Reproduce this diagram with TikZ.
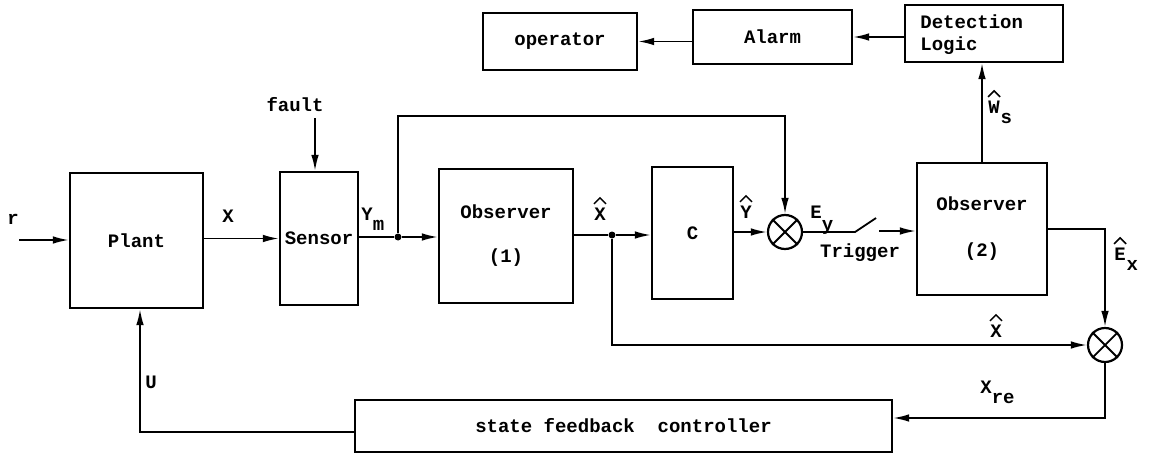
\documentclass[tikz,border=0pt]{standalone}
\usepackage{fontspec}
\setmainfont{Liberation Mono}
\usetikzlibrary{arrows.meta}
\newcommand\lowr[1]{\raisebox{-5pt}{#1}}
\newcommand\hatover[1]{\draw[hatline] ([xshift=-3pt,yshift=1.6pt]#1.north) -- ([yshift=4.6pt]#1.north) -- ([xshift=3pt,yshift=1.6pt]#1.north);}
\begin{document}
\begin{tikzpicture}[x=0.5pt,y=-0.5pt,
  box/.style={draw,line width=1.1pt,inner sep=0pt},
  sj/.style={draw,circle,line width=1.1pt,minimum size=17pt,inner sep=0pt},
  wire/.style={line width=0.9pt},
  hatline/.style={line width=0.75pt},
  arr/.style={wire,-{Latex[length=8pt,width=3.8pt]}},
  lbl/.style={anchor=base,inner sep=0pt},
  dot/.style={circle,fill,inner sep=0pt,minimum size=3.5pt},
  font=\fontsize{9.5}{11}\selectfont\bfseries]
\useasboundingbox[fill=white] (0,0) rectangle (1149,460);

% blocks
\node[box,minimum width=66.5pt,minimum height=67.5pt] (plant) at (136.5,240.5) {Plant};
\node[box,minimum width=39pt,minimum height=66.5pt] (sensor) at (319,238.5) {Sensor};
\node[box,minimum width=67pt,minimum height=67pt,align=center] (obs1) at (506,236) {Observer\\[11pt](1)};
\node[box,minimum width=40.5pt,minimum height=66pt] (cbox) at (692.5,233) {C};
\node[sj] (s1) at (785,232) {};
\node[box,minimum width=65pt,minimum height=66pt,align=center] (obs2) at (982,229) {Observer\\[12pt](2)};
\node[box,minimum width=79pt,minimum height=28.5pt] (det) at (984,33.5) {};
\node[inner sep=0pt,anchor=west,align=left] (dett) at (920,35) {Detection\\Logic};
\node[box,minimum width=79.5pt,minimum height=27pt] (alarm) at (772.5,37) {Alarm};
\node[box,minimum width=77pt,minimum height=28.5pt] (oper) at (560,41.5) {operator};
\node[box,minimum width=268.5pt,minimum height=26pt] (ctrl) at (623.5,426) {state feedback\ \ controller};
\node[sj] (s2) at (1105,345) {};

\draw[wire] (s1.north east)--(s1.south west) (s1.north west)--(s1.south east);
\draw[wire] (s2.north east)--(s2.south west) (s2.north west)--(s2.south east);

% helper points
\coordinate (rin) at (19,240);
\coordinate (fin) at (315,118);
\node[dot] (d1) at (398,237) {};
\node[dot] (d2) at (612,235) {};
\coordinate (fbtop1) at (398,116);
\coordinate (fbtop2) at (785,116);
\coordinate (sw1) at (855,232);
\coordinate (sw2) at (876,218);
\coordinate (sw3) at (879,231);
\coordinate (exc) at (1105,229);
\coordinate (xhc) at (612,345);
\coordinate (xrec) at (1105,418);
\coordinate (uc) at (140,432);

% connectors
\draw[arr] (rin) -- (plant.west |- rin);
\draw[arr] (plant.east |- sensor.west) -- (sensor.west);
\draw[arr] (fin) -- (sensor.north -| fin);
\draw[wire] (sensor.east |- d1) -- (d1);
\draw[arr] (d1) -- (obs1.west |- d1);
\draw[arr] (d1) -- (fbtop1) -- (fbtop2) -- (s1.north);
\draw[wire] (obs1.east |- d2) -- (d2);
\draw[arr] (d2) -- (cbox.west |- d2);
\draw[arr] (cbox.east |- s1) -- (s1.west);
\draw[wire] (s1.east) -- (sw1) -- (sw2);
\draw[arr] (sw3) -- (obs2.west |- sw3);
\draw[arr] (obs2.east |- exc) -- (exc) -- (s2.north);
\draw[arr] (d2) -- (xhc) -- (s2.west);
\draw[arr] (s2.south) -- (xrec) -- (ctrl.east |- xrec);
\draw[arr] (ctrl.west |- uc) -- (uc) -- (plant.south -| uc);
\draw[arr] (obs2.north) -- (det.south -| obs2.north);
\draw[arr] (det.west |- alarm.east) -- (alarm.east);
\draw[arr] (alarm.west |- oper.east) -- (oper.east);

% labels
\node[lbl] (lr) at (13,224) {r};
\node[lbl] (lx) at (228,222) {X};
\node[lbl] (lf) at (295,112) {fault};
\node[lbl,anchor=base west] (lym) at (361,220) {Y\lowr{m}};
\node[lbl] (lxh) at (600,220) {X};
\hatover{lxh}
\node[lbl] (lyh) at (746,218) {Y};
\hatover{lyh}
\node[lbl,anchor=base west] (ley) at (810,218) {E\raisebox{-6pt}{y}};
\node[lbl,anchor=center] (ltr) at (860,253) {Trigger};
\node[lbl,anchor=base west] (lw) at (988,113) {W};
\node[lbl,anchor=base west] (lws) at ([yshift=-5pt]lw.base east) {s};
\hatover{lw}
\node[lbl,anchor=base west] (le) at (1114,260) {E};
\node[lbl,anchor=base west] (lex) at ([yshift=-5pt]le.base east) {x};
\hatover{le}
\node[lbl] (lxh2) at (996,337) {X};
\hatover{lxh2}
\node[lbl,anchor=base west] (lxre) at (980,393) {X\lowr{re}};
\node[lbl,anchor=base west] (lu) at (145,388) {U};
\end{tikzpicture}
\end{document}
